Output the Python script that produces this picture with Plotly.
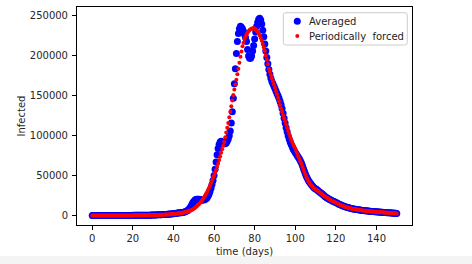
import plotly.graph_objects as go

# time grid (days), half-day sampling
days = [i * 0.5 for i in range(301)]

# Averaged model (thousands of infected), rows of 10 days
averaged_k = (
    [0.00,0.01,0.00,0.01,0.01,0.00,0.01,0.01,0.02,0.01,0.02,0.02,0.01,0.02,0.03,0.02,0.03,0.03,0.04,0.03]
  + [0.04,0.05,0.04,0.05,0.06,0.05,0.07,0.06,0.08,0.07,0.09,0.08,0.10,0.09,0.11,0.12,0.11,0.13,0.14,0.13]
  + [0.16,0.15,0.18,0.17,0.20,0.22,0.21,0.25,0.24,0.28,0.30,0.29,0.34,0.36,0.35,0.41,0.44,0.43,0.50,0.53]
  + [0.60,0.62,0.70,0.72,0.80,0.85,0.95,1.00,1.05,1.10,1.20,1.25,1.30,1.40,1.50,1.60,1.80,1.90,2.00,2.10]
  + [2.3,2.5,2.6,2.8,3.0,3.1,3.3,3.4,3.6,3.8,4.1,4.5,5.0,5.6,6.3,7.5,9.0,11,13.5,16]
  + [17.5,19,20,20.5,20.5,20.5,20,19.5,19.5,19.5,19.5,20,21,22,24,26.5,30,34,39,44]
  + [50,58,67,76,84,89,92,93,92,91,90,90,91,93,96,100,106,116,130,147]
  + [165,184,203,218,228,234,237,236,234,231,227,223,218,208,200,197,197,200,206,213]
  + [221,230,237,242,246,247,245,240,232,224,215,206,198,190,183,177,172,168,165,162]
  + [159,156,153,150,147,143,139,134,128,122,116,110,105,100,96,92,89,86,83,81]
  + [79,77,75,73,71,68.5,66,62.5,59,55.5,52,49,46.5,44,42,40,38.5,37,35.5,34]
  + [33.5,32.5,31.5,30.5,29.5,28.5,27.5,26.5,25.3,24.2,23.2,22.4,21.5,20.8,20.1,19.4,18.7,18,17.4,16.8]
  + [16.2,15.6,14.9,14.2,13.7,13.1,12.6,12,11.5,11.1,10.7,10.3,9.9,9.6,9.2,8.9,8.6,8.3,8.1,7.8]
  + [7.6,7.4,7.2,7,6.8,6.6,6.4,6.2,6.1,5.9,5.8,5.6,5.5,5.4,5.2,5.1,5,4.9,4.8,4.7]
  + [4.6,4.5,4.4,4.3,4.2,4.1,4,3.9,3.8,3.7,3.6,3.5,3.4,3.3,3.2,3.1,3,2.9,2.8,2.7]
  + [2.6]
)

# Periodically forced model (thousands of infected)
forced_k = (
    [0.00,0.00,0.01,0.01,0.01,0.01,0.01,0.01,0.01,0.01,0.02,0.02,0.02,0.02,0.02,0.02,0.03,0.03,0.03,0.03]
  + [0.04,0.04,0.04,0.05,0.05,0.05,0.06,0.06,0.07,0.07,0.08,0.08,0.09,0.09,0.10,0.11,0.12,0.12,0.13,0.14]
  + [0.15,0.16,0.17,0.18,0.20,0.21,0.22,0.24,0.25,0.27,0.29,0.31,0.33,0.35,0.37,0.40,0.42,0.45,0.48,0.51]
  + [0.55,0.58,0.62,0.66,0.70,0.75,0.80,0.85,0.90,0.96,1.02,1.08,1.15,1.22,1.30,1.38,1.46,1.55,1.65,1.75]
  + [1.9,2.0,2.1,2.3,2.4,2.6,2.8,3.0,3.2,3.4,3.7,4.0,4.3,4.6,5.0,5.4,5.9,6.4,7.0,7.6]
  + [8.5,9.4,10.4,11.5,12.7,14.0,15.4,17.0,18.7,20.5,22.5,24.6,26.8,29.2,31.8,34.5,37.4,40.5,43.8,47.2]
  + [50,53.5,57,61,65,69.5,74,78.5,83,87.5,92,98,104,110,116,123,130,137,144,151]
  + [158,164,170,177,184,191.5,199,205.5,212,216.5,221,224,227,229,231,232.5,233.5,234,234.5,234.5]
  + [234,233,231.5,230,228,225.5,222.5,219,215,210.5,206,200.5,195,189.5,184,180,176,172,168,164]
  + [160,156,152,147.5,143,138.5,134,130,126,122,118,114,110,106,102,98.5,95,92,89,86.5]
  + [84,80.5,77,74,71,68,65,61.5,58,54.5,51,48,45.5,43,41,39,37.5,36,34.5,33.5]
  + [33,32,31,30,29,28,27,26,25,24,23.2,22.4,21.6,20.8,20,19.3,18.6,17.9,17.2,16.6]
  + [16,15.3,14.6,14,13.4,12.9,12.4,11.9,11.4,11,10.6,10.2,9.8,9.5,9.2,8.9,8.6,8.3,8,7.8]
  + [7.6,7.4,7.2,7,6.8,6.6,6.4,6.2,6,5.9,5.8,5.6,5.5,5.4,5.2,5.1,5,4.9,4.8,4.7]
  + [4.6,4.5,4.4,4.3,4.2,4.1,4,3.9,3.8,3.7,3.6,3.5,3.4,3.3,3.2,3.1,3.0,2.9,2.8,2.7]
  + [2.6]
)

series_names = ["Averaged", "Periodically\u00a0 forced"]
series_colors = ["#0000ff", "#ff0000"]
series_sizes = [7, 4]
x_ticks = [0, 20, 40, 60, 80, 100, 120, 140]
y_ticks = [0, 50000, 100000, 150000, 200000, 250000]

averaged = [v * 1000 for v in averaged_k]
forced = [v * 1000 for v in forced_k]

FONT = "DejaVu Sans"
TXT = "#262626"

# plot-area geometry (px) for legend placement
L, R, T, B = 77, 412, 7, 225
PW, PH = R - L, B - T
def px(xp): return (xp - L) / PW
def py(yp): return (B - yp) / PH

fig = go.Figure()
for vals, name, col, sz in zip([averaged, forced], series_names, series_colors, series_sizes):
    fig.add_trace(go.Scatter(x=days, y=vals, mode="markers", name=name, showlegend=False,
                             marker=dict(color=col, size=sz, line=dict(width=0))))

axis_common = dict(showline=True, linecolor="black", linewidth=1, mirror=True,
                   ticks="outside", ticklen=4, tickcolor="black", tickwidth=1,
                   showgrid=False, zeroline=False, automargin=False,
                   tickfont=dict(family=FONT, size=10, color=TXT))

fig.update_xaxes(range=[-7.5, 157.5], tickvals=x_ticks,
                 title=dict(text="time (days)", font=dict(family=FONT, size=10, color=TXT), standoff=4),
                 **axis_common)
fig.update_yaxes(range=[-11900, 261250], tickvals=y_ticks, tickformat="d", ticklabelstandoff=2,
                 title=dict(text="Infected", font=dict(family=FONT, size=10, color=TXT), standoff=2),
                 **axis_common)

# legend drawn as a matplotlib-style box
bx0, bx1, by0, by1, rr = px(283.3), px(407.3), py(45), py(12.7), 2.5
rx, ry = rr / PW, rr / PH
box_path = (f"M {bx0+rx},{by1} L {bx1-rx},{by1} Q {bx1},{by1} {bx1},{by1-ry} "
            f"L {bx1},{by0+ry} Q {bx1},{by0} {bx1-rx},{by0} L {bx0+rx},{by0} "
            f"Q {bx0},{by0} {bx0},{by0+ry} L {bx0},{by1-ry} Q {bx0},{by1} {bx0+rx},{by1} Z")
shapes = [
    dict(type="rect", xref="paper", yref="paper",
         x0=-L / PW, x1=(472 - L) / PW, y0=-39 / PH, y1=-31 / PH,
         fillcolor="#f4f4f4", line=dict(width=0), layer="below"),
    dict(type="path", xref="paper", yref="paper", path=box_path,
         fillcolor="rgba(255,255,255,0.8)", line=dict(color="#cccccc", width=1), layer="above"),
]
annotations = []
for i, (name, col, sz) in enumerate(zip(series_names, series_colors, series_sizes)):
    cy = 21.3 + 14.7 * i
    r = sz / 2
    shapes.append(dict(type="circle", xref="paper", yref="paper",
                       x0=px(297.3 - r), x1=px(297.3 + r), y0=py(cy + r), y1=py(cy - r),
                       fillcolor=col, line=dict(width=0), layer="above"))
    annotations.append(dict(xref="paper", yref="paper", x=px(306.5), y=py(cy),
                            xanchor="left", yanchor="middle", text=name, showarrow=False,
                            font=dict(family=FONT, size=10, color=TXT)))

fig.update_layout(
    width=472, height=264,
    margin=dict(l=L, r=472 - R, t=T, b=264 - B, pad=0),
    paper_bgcolor="white", plot_bgcolor="white",
    font=dict(family=FONT, size=10, color=TXT),
    showlegend=False,
    shapes=shapes,
    annotations=annotations,
)

fig.write_html("out.html", config={"displayModeBar": False},
               post_script="document.body.style.margin='0';")
